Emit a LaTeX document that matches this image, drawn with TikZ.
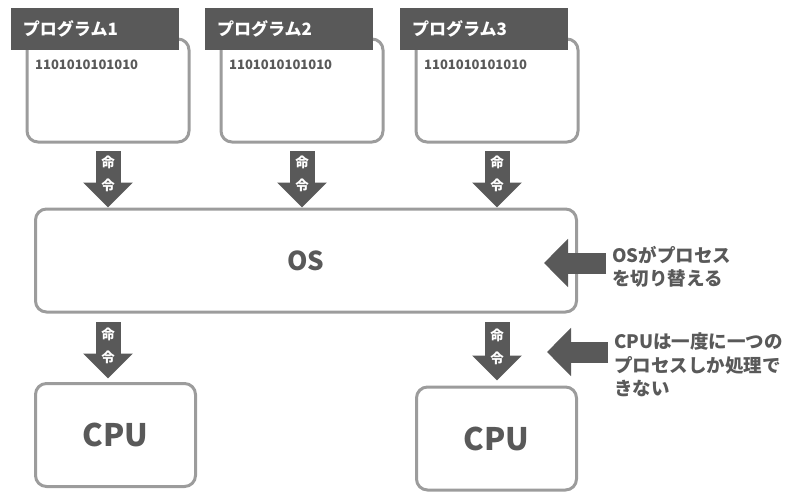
\documentclass[tikz,border=0pt]{standalone}
\usepackage{fontspec}
\setmainfont{Noto Sans CJK JP}
\usetikzlibrary{arrows.meta}
\definecolor{darkgray}{HTML}{595959}
\definecolor{boxgray}{HTML}{9C9C9C}
\begin{document}
\begin{tikzpicture}[x=1pt,y=-1pt,every node/.style={font=\bfseries,text=darkgray}]
    \tikzset{
      box/.style={draw=boxgray,line width=3pt,rounded corners=11pt,fill=white,
        minimum width=#1,minimum height=103pt,inner sep=0pt},
      tab/.style={fill=darkgray,text=white,minimum width=168pt,minimum height=42pt,
        inner xsep=12pt,inner ysep=0pt,text width=144pt,align=left,
        font=\bfseries\fontsize{17}{19}\selectfont},
      bits/.style={anchor=west,inner sep=0pt,font=\bfseries\fontsize{13}{15}\selectfont},
      cmdarrow/.style={draw=darkgray,line width=25pt,-{Triangle[length=25pt,width=48pt]}},
      sidearrow/.style={draw=darkgray,line width=21pt,-{Triangle[length=24pt,width=47pt]}},
      cmdlabel/.style={text=white,align=center,inner sep=0pt,
        font=\bfseries\fontsize{13.5}{23}\selectfont},
      note/.style={anchor=west,align=left,inner sep=0pt,
        font=\bfseries\fontsize{18.5}{23.5}\selectfont}
    }
    \useasboundingbox (0,0) rectangle (803,496);

    % programs
    \node[box=162pt] (p1) at (108,90.5) {};
    \node[box=162pt] (p2) at (302,90.5) {};
    \node[box=162pt] (p3) at (497,90.5) {};
    \node[tab] (t1) at (95,29) {プログラム1};
    \node[tab] (t2) at (289,29) {プログラム2};
    \node[tab] (t3) at (484,29) {プログラム3};
    \node[bits] (b1) at ([xshift=9.5pt,yshift=-27.5pt]p1.north west) {1101010101010};
    \node[bits] (b2) at ([xshift=9.5pt,yshift=-27.5pt]p2.north west) {1101010101010};
    \node[bits] (b3) at ([xshift=9.5pt,yshift=-27.5pt]p3.north west) {1101010101010};

    % os and cpus
    \node[box=541pt,font=\bfseries\fontsize{26}{30}\selectfont] (os) at (306,260.5) {OS};
    \node[box=160pt,font=\bfseries\fontsize{31}{36}\selectfont] (cpu1) at (115.5,435) {CPU};
    \node[box=160pt,font=\bfseries\fontsize{31}{36}\selectfont] (cpu2) at (496.5,438.5) {CPU};

    % instructions
    \draw[cmdarrow] ([yshift=-7.5pt]p1.south) -- node[cmdlabel,yshift=5pt] (c1) {命\\令} (os.north -| p1.south);
    \draw[cmdarrow] ([yshift=-7.5pt]p2.south) -- node[cmdlabel,yshift=5pt] (c2) {命\\令} (os.north -| p2.south);
    \draw[cmdarrow] ([yshift=-7.5pt]p3.south) -- node[cmdlabel,yshift=5pt] (c3) {命\\令} (os.north -| p3.south);
    \draw[cmdarrow] ([yshift=-8.5pt]os.south -| p1.south) -- node[cmdlabel,yshift=4.5pt] (c4) {命\\令} ([yshift=3.5pt]cpu1.north -| p1.south);
    \draw[cmdarrow] ([yshift=-8.5pt]os.south -| p3.south) -- node[cmdlabel,yshift=4.5pt] (c5) {命\\令} ([yshift=5pt]cpu2.north -| p3.south);

    % notes
    \node[note] (n1) at (612,267) {OSがプロセス\\を切り替える};
    \node[note] (n2) at (614,365) {CPUは一度に一つの\\プロセスしか処理で\\きない};
    \coordinate (s1) at (606,263);
    \coordinate (e1) at (544,263);
    \coordinate (s2) at (608,352);
    \coordinate (e2) at (547,352);
    \draw[sidearrow] (s1) -- (e1);
    \draw[sidearrow] (s2) -- (e2);
  \end{tikzpicture}
\end{document}
